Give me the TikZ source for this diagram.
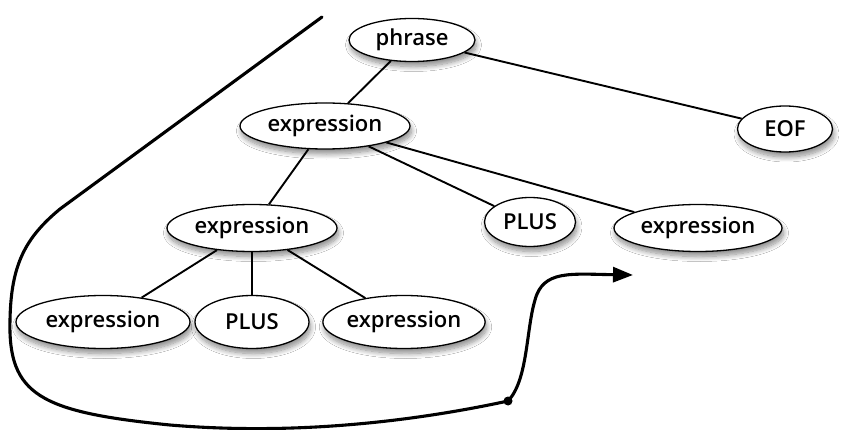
\documentclass[tikz,border=0pt]{standalone}
\usepackage{fontspec}
\setmainfont{Open Sans}[UprightFont={* Semibold}]
\usetikzlibrary{shapes.geometric,shadows.blur,arrows.meta}
\pgfdeclarelayer{background}
\pgfsetlayers{background,main}
\begin{document}
\begin{tikzpicture}[x=1pt,y=-1pt,
  tnode/.style={ellipse,draw=black,line width=1.3pt,fill=white,inner sep=0pt,
    font=\fontsize{22}{26}\selectfont,
    blur shadow={shadow xshift=1.5pt,shadow yshift=-5pt,shadow blur radius=5pt,
      shadow blur steps=10,shadow opacity=45}},
  edge/.style={line width=1.9pt},
  walk/.style={line width=3.1pt,line cap=round}]
\useasboundingbox (0,0) rectangle (848,430);

% parse tree
\node[tnode,minimum width=126pt,minimum height=43pt] (phrase) at (412,40) {phrase};
\node[tnode,minimum width=170pt,minimum height=46pt] (e1) at (325,126) {expression};
\node[tnode,minimum width=95pt,minimum height=46pt] (eof) at (785,129) {EOF};
\node[tnode,minimum width=170pt,minimum height=47pt] (e2) at (252,228) {expression};
\node[tnode,minimum width=91pt,minimum height=49pt] (plus1) at (530,222) {PLUS};
\node[tnode,minimum width=168pt,minimum height=47pt] (e3) at (698,228) {expression};
\node[tnode,minimum width=174pt,minimum height=53pt] (e4) at (103,322) {expression};
\node[tnode,minimum width=114pt,minimum height=53pt] (plus2) at (252,322) {PLUS};
\node[tnode,minimum width=150pt,minimum height=53pt] (e5) at (404,322) {expression};

\begin{pgfonlayer}{background}
\fill[white] (0,0) rectangle (848,430);
\draw[edge] (phrase) -- (e1);
\draw[edge] (phrase) -- (eof);
\draw[edge] (e1) -- (e2);
\draw[edge] (e1.-25) -- (plus1.156);
\draw[edge] (e1.-15) -- (e3.166);
\draw[edge] (e2) -- (e4);
\draw[edge] (e2) -- (plus2);
\draw[edge] (e2) -- (e5);
\end{pgfonlayer}

% traversal of the tree
\coordinate (pstart) at (322,17);
\coordinate (pdot) at (508,401);
\coordinate (pend) at (633,275);
\draw[walk,-{Triangle[length=20pt,width=15pt]}]
  (pstart) -- (60,209)
  .. controls (25,238) and (11,265) .. (10,320)
  .. controls (8,395) and (40,412) .. (170,425)
  .. controls (300,436) and (420,420) .. (pdot)
  .. controls (528,380) and (526,330) .. (535,300)
  .. controls (543,270) and (570,274) .. (pend);
\fill (pdot) circle (4.5pt);
\end{tikzpicture}
\end{document}
